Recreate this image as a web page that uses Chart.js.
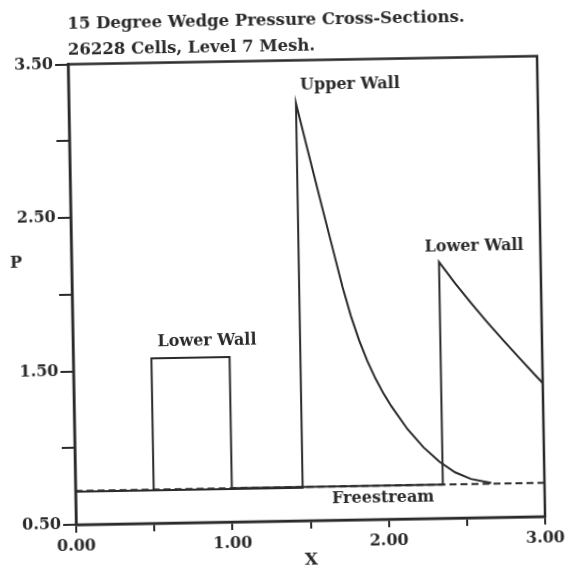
<!DOCTYPE html>
<html>
<head>
<meta charset="utf-8">
<script src="https://cdn.jsdelivr.net/npm/chart.js@4"></script>
<style>
  html, body { margin: 0; padding: 0; background: #fff; }
  /* the plate sits a little askew */
  #wrap { width: 574px; height: 572px; transform: rotate(-1deg); }
</style>
</head>
<body>
<div id="wrap"><canvas id="wedge-chart" width="574" height="572"></canvas></div>
<script>
// Upper wall pressure
const upperX = [0, 1.453, 1.453, 1.52, 1.59, 1.66, 1.73, 1.78, 1.83, 1.88, 1.93, 1.98, 2.03, 2.13, 2.23, 2.33, 2.43, 2.53, 2.63, 2.66];
const upperP = [0.715, 0.715, 3.22, 2.925, 2.62, 2.32, 2.02, 1.83, 1.67, 1.535, 1.42, 1.32, 1.235, 1.085, 0.965, 0.87, 0.798, 0.753, 0.731, 0.725];

// Lower wall pressure
const lowerX = [0, 0.5, 0.5, 1.0, 1.0, 2.35, 2.35, 2.45, 2.55, 2.65, 2.75, 2.85, 2.95, 3.0];
const lowerP = [0.715, 0.715, 1.575, 1.575, 0.72, 0.72, 2.17, 2.03, 1.90, 1.775, 1.655, 1.54, 1.425, 1.37];

// Freestream level
const freeX = [0, 3];
const freeP = [0.72, 0.72];

// axis ranges and tick spacing
const xRange = [0, 3];
const yRange = [0.5, 3.5];
const tickStep = 0.5;

const titleLines = ["15 Degree Wedge Pressure Cross-Sections.", "26228 Cells, Level 7 Mesh."];

// curve labels: [text, x, P]
const notes = [
  ["Upper Wall", 1.80, 3.333],
  ["Lower Wall", 2.576, 2.264],
  ["Lower Wall", 0.857, 1.682],
  ["Freestream", 1.966, 0.639]
];

const ink = "#2a2a2a";
const serif = "'DejaVu Serif', 'Liberation Serif', serif";

function toPoints(xs, ys) {
  return xs.map((x, i) => ({ x: x, y: ys[i] }));
}

// box round the plot and the free text
const framePlugin = {
  id: "frame",
  afterDraw(chart) {
    const ctx = chart.ctx;
    const a = chart.chartArea;
    const xs = chart.scales.x;
    const ys = chart.scales.y;
    ctx.save();
    ctx.strokeStyle = ink;
    ctx.lineWidth = 2.5;
    ctx.strokeRect(a.left, a.top, a.right - a.left, a.bottom - a.top);

    ctx.fillStyle = ink;
    ctx.font = "bold 16px " + serif;
    ctx.textAlign = "center";
    ctx.textBaseline = "middle";
    notes.forEach(([text, x, p]) => {
      ctx.fillText(text, xs.getPixelForValue(x), ys.getPixelForValue(p));
    });

    ctx.fillText("P", a.left - 55.6, ys.getPixelForValue(2.211));
    ctx.restore();
  }
};

function isWhole(v) {
  return Math.abs(v - Math.round(v)) < 1e-6;
}

new Chart(document.getElementById("wedge-chart"), {
  type: "scatter",
  data: {
    datasets: [
      {
        label: "Freestream",
        data: toPoints(freeX, freeP),
        showLine: true,
        borderColor: ink,
        borderWidth: 2,
        borderDash: [7, 4],
        pointRadius: 0
      },
      {
        label: "Lower Wall",
        data: toPoints(lowerX, lowerP),
        showLine: true,
        borderColor: ink,
        borderWidth: 2,
        pointRadius: 0
      },
      {
        label: "Upper Wall",
        data: toPoints(upperX, upperP),
        showLine: true,
        borderColor: ink,
        borderWidth: 2,
        pointRadius: 0
      }
    ]
  },
  options: {
    responsive: false,
    animation: false,
    layout: { padding: { left: 0, right: 33, top: 0, bottom: 0 } },
    plugins: {
      legend: { display: false },
      tooltip: { enabled: false },
      title: {
        display: true,
        text: titleLines,
        align: "start",
        fullSize: false,
        color: ink,
        font: { family: serif, size: 16.5, weight: "bold", lineHeight: 1.576 },
        padding: { top: 7.5, bottom: 1 }
      }
    },
    scales: {
      x: {
        type: "linear",
        min: xRange[0],
        max: xRange[1],
        afterFit(scale) { scale.height = 51; },
        border: { display: true, color: ink, width: 2.5 },
        grid: { drawOnChartArea: false, drawTicks: true, tickLength: 8, color: ink, lineWidth: 2 },
        ticks: {
          stepSize: tickStep,
          autoSkip: false,
          maxRotation: 0,
          padding: 4,
          color: ink,
          font: { family: serif, size: 16, weight: "bold" },
          callback: (v) => (isWhole(v) ? Number(v).toFixed(2) : "")
        },
        title: {
          display: true,
          text: "X",
          color: ink,
          font: { family: serif, size: 17, weight: "bold" },
          padding: { top: 0, bottom: 1.5 }
        }
      },
      y: {
        type: "linear",
        min: yRange[0],
        max: yRange[1],
        afterFit(scale) { scale.width = 72; },
        border: { display: true, color: ink, width: 2.5 },
        grid: { drawOnChartArea: false, drawTicks: true, tickLength: 13, color: ink, lineWidth: 2 },
        ticks: {
          stepSize: tickStep,
          autoSkip: false,
          padding: 2,
          color: ink,
          font: { family: serif, size: 16, weight: "bold" },
          callback: (v) => (isWhole(v - 0.5) ? Number(v).toFixed(2) : "")
        }
      }
    }
  },
  plugins: [framePlugin]
});
</script>
</body>
</html>
